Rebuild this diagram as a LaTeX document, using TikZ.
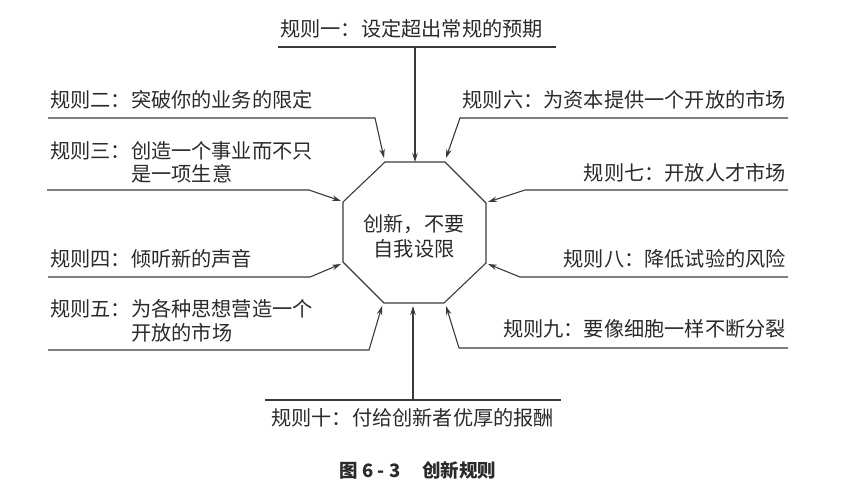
\documentclass[tikz,border=0pt]{standalone}
\usepackage{fontspec}
\setmainfont{Noto Sans CJK SC}
\newfontfamily\cjk{Noto Sans CJK SC}
\usetikzlibrary{arrows.meta}
\definecolor{ink}{HTML}{2A2A2A}
\definecolor{wire}{HTML}{3A3A3A}
\begin{document}
\begin{tikzpicture}[x=1pt,y=-1pt,
  lbl/.style={inner sep=0pt,font=\cjk\fontsize{20.2}{23}\selectfont,text=ink},
  wirest/.style={draw=wire,line width=1.1pt},
  conn/.style={wirest,-{Stealth[length=9pt,width=5.5pt]}}]
\useasboundingbox (0,0) rectangle (865,483);
% octagon
\coordinate (o1) at (385,162); \coordinate (o2) at (445,162);
\coordinate (o3) at (486,203); \coordinate (o4) at (486,263);
\coordinate (o5) at (444,303); \coordinate (o6) at (384,303);
\coordinate (o7) at (343,262); \coordinate (o8) at (343,202);
\draw[wirest] (o1)--(o2)--(o3)--(o4)--(o5)--(o6)--(o7)--(o8)--cycle;
\node[lbl,align=center] (ctr) at (414,236) {创新，不要\\[2pt]自我设限};
% arrow tips
\coordinate (t1) at (415,162); \coordinate (t2) at (384,158);
\coordinate (t6) at (446,158); \coordinate (t3) at (341,201);
\coordinate (t7) at (488,202); \coordinate (t4) at (341,264);
\coordinate (t8) at (488,264); \coordinate (t5) at (382,306);
\coordinate (t9) at (446,306); \coordinate (t10) at (413,306);
% labels
\node[lbl,anchor=base west] (l1) at (280,36) {规则一：设定超出常规的预期};
\node[lbl,anchor=base west] (l2) at (50,107) {规则二：突破你的业务的限定};
\node[lbl,anchor=base east] (l6) at (786,107) {规则六：为资本提供一个开放的市场};
\node[lbl,anchor=base west] (l3) at (50,158) {规则三：创造一个事业而不只};
\node[lbl,anchor=base west] (l3b) at (131,181) {是一项生意};
\node[lbl,anchor=base east] (l7) at (786,180) {规则七：开放人才市场};
\node[lbl,anchor=base west] (l4) at (50,266) {规则四：倾听新的声音};
\node[lbl,anchor=base east] (l8) at (786,266) {规则八：降低试验的风险};
\node[lbl,anchor=base west] (l5) at (50,316) {规则五：为各种思想营造一个};
\node[lbl,anchor=base west] (l5b) at (131,340) {开放的市场};
\node[lbl,anchor=base east] (l9) at (786,336) {规则九：要像细胞一样不断分裂};
\node[lbl,anchor=base west] (l10) at (271,425) {规则十：付给创新者优厚的报酬};
\node[inner sep=0pt,anchor=base,font=\cjk\bfseries\fontsize{18.5}{21}\selectfont,text=ink] (cap) at (418,477) {图 6 - 3\hspace{1.2em}创新规则};
% underline coordinates
\coordinate (u1a) at (278,47); \coordinate (u1b) at (556,47); \coordinate (u1m) at (415,47);
\coordinate (u2a) at (48,118); \coordinate (u2b) at (375,118);
\coordinate (u6a) at (788,118); \coordinate (u6b) at (460,118);
\coordinate (u3a) at (47,190); \coordinate (u3b) at (309,190);
\coordinate (u7a) at (788,190); \coordinate (u7b) at (525,190);
\coordinate (u4a) at (48,277); \coordinate (u4b) at (310,277);
\coordinate (u8a) at (788,277); \coordinate (u8b) at (520,277);
\coordinate (u5a) at (48,350); \coordinate (u5b) at (369,350);
\coordinate (u9a) at (788,348); \coordinate (u9b) at (459,348);
\coordinate (u10a) at (265,400); \coordinate (u10b) at (561,400); \coordinate (u10m) at (413,400);
% connectors
\draw[wirest] (u1a) -- (u1b);
\draw[conn] (u1m) -- (t1);
\draw[conn] (u2a) -- (u2b) -- (t2);
\draw[conn] (u6a) -- (u6b) -- (t6);
\draw[conn] (u3a) -- (u3b) -- (t3);
\draw[conn] (u7a) -- (u7b) -- (t7);
\draw[conn] (u4a) -- (u4b) -- (t4);
\draw[conn] (u8a) -- (u8b) -- (t8);
\draw[conn] (u5a) -- (u5b) -- (t5);
\draw[conn] (u9a) -- (u9b) -- (t9);
\draw[wirest] (u10a) -- (u10b);
\draw[conn] (u10m) -- (t10);
\end{tikzpicture}
\end{document}
